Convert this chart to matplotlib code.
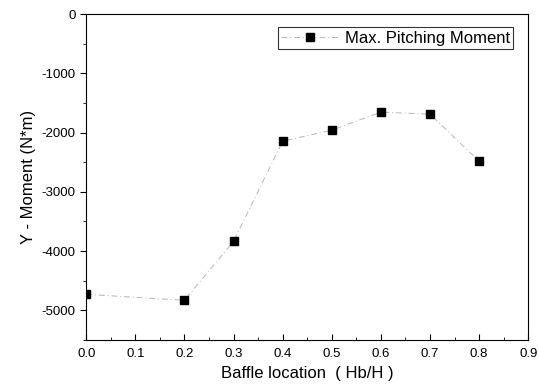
import matplotlib
matplotlib.use('Agg')
import matplotlib.pyplot as plt
from matplotlib.ticker import MultipleLocator

plt.rcParams['font.family'] = ['Liberation Sans', 'DejaVu Sans']
plt.rcParams['axes.unicode_minus'] = False

baffle_location = [0.0, 0.2, 0.3, 0.4, 0.5, 0.6, 0.7, 0.8]
max_pitching_moment = [-4730, -4830, -3835, -2145, -1960, -1655, -1690, -2485]

fig = plt.figure(figsize=(5.39, 3.89), dpi=100)
ax = fig.add_axes([0.16, 0.126, 0.82, 0.838])

ax.plot(baffle_location, max_pitching_moment, color='#b5b5b5', linewidth=0.7,
        linestyle=(0, (6, 3, 1, 3)), marker='s', markersize=5.5,
        markerfacecolor='black', markeredgecolor='black',
        label='Max. Pitching Moment')

ax.set_xlim(0, 0.9)
ax.set_ylim(-5500, 0)
ax.xaxis.set_major_locator(MultipleLocator(0.1))
ax.xaxis.set_minor_locator(MultipleLocator(0.05))
ax.yaxis.set_major_locator(MultipleLocator(1000))
ax.yaxis.set_minor_locator(MultipleLocator(500))
ax.tick_params(axis='x', which='both', direction='in', labelsize=9.5, pad=6)
ax.tick_params(axis='y', which='both', direction='out', labelsize=9.5)
ax.tick_params(which='major', length=4)
ax.tick_params(which='minor', length=2.5)

ax.set_xlabel('Baffle location  ( Hb/H )', fontsize=12)
ax.set_ylabel('Y - Moment (N*m)', fontsize=12)

leg = ax.legend(loc='upper right', fontsize=12, frameon=True, fancybox=False,
                edgecolor='black', borderpad=0.2, handlelength=3.4,
                handletextpad=0.4, bbox_to_anchor=(0.985, 0.985))
leg.get_frame().set_linewidth(0.8)

fig.savefig('out.png', dpi=100)
